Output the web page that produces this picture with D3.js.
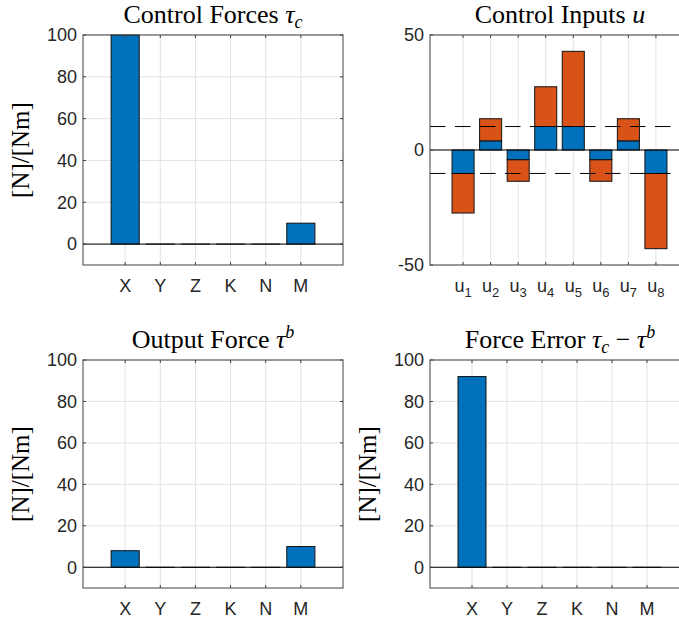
<!DOCTYPE html>
<html lang="en">
<head>
    <meta charset="UTF-8">
    <title>Control allocation</title>
    <script src="https://d3js.org/d3.v7.min.js"></script>
    <style>
        body {
            margin: 0;
            background: #ffffff;
        }
        svg {
            display: block;
        }
        .tick-label {
            font-family: "Liberation Sans", Arial, sans-serif;
            font-size: 18px;
            fill: #262626;
        }
        .serif {
            font-family: "Liberation Serif", "Times New Roman", serif;
            fill: #000000;
        }
    </style>
</head>
<body>
    <div id="chart"></div>

    <script>
        // data
        const forceLabels = ["X", "Y", "Z", "K", "N", "M"];
        const controlForces = [100, 0, 0, 0, 0, 10];
        const outputForce = [8, 0, 0, 0, 0, 10];
        const forceError = [92, 0, 0, 0, 0, 0];
        const forceTicks = [0, 20, 40, 60, 80, 100];

        const inputLabels = ["1", "2", "3", "4", "5", "6", "7", "8"];
        const inputAchieved = [-10.2, 3.9, -4.2, 10.2, 10.2, -4.2, 3.9, -10.2];
        const inputRequested = [-27.4, 13.6, -13.6, 27.5, 42.9, -13.6, 13.6, -42.9];
        const inputLimit = 10.2;
        const inputTicks = [-50, 0, 50];

        const width = 679;
        const height = 624;
        const blue = "#0072BD";
        const orange = "#D95319";

        const svg = d3.select("#chart")
            .append("svg")
            .attr("width", width)
            .attr("height", height);

        function drawPanel(opt) {
            const g = svg.append("g");
            const n = opt.labels.length;

            const x = d3.scaleLinear()
                .domain([-0.2, n + 1.2])
                .range([opt.left, opt.left + opt.w]);
            const y = d3.scaleLinear()
                .domain(opt.yDomain)
                .range([opt.top + opt.h, opt.top]);
            const idx = d3.range(1, n + 1);
            const bw = x(0.8) - x(0);

            // grid
            g.selectAll(".vgrid").data(idx).enter().append("line")
                .attr("x1", d => x(d)).attr("x2", d => x(d))
                .attr("y1", opt.top).attr("y2", opt.top + opt.h)
                .attr("stroke", "#e3e3e3");
            g.selectAll(".hgrid").data(opt.ticks).enter().append("line")
                .attr("x1", opt.left).attr("x2", opt.left + opt.w)
                .attr("y1", d => y(d)).attr("y2", d => y(d))
                .attr("stroke", "#e3e3e3");

            // bars (each series is a list of [from, to] segments)
            opt.series.forEach(s => {
                g.selectAll(null).data(s.values).enter().append("rect")
                    .attr("x", (d, i) => x(i + 1) - bw / 2)
                    .attr("width", bw)
                    .attr("y", d => Math.min(y(d[0]), y(d[1])))
                    .attr("height", d => Math.max(Math.abs(y(d[0]) - y(d[1])), 0.01))
                    .attr("fill", s.color)
                    .attr("stroke", "#111")
                    .attr("stroke-width", 1);
            });

            // base line
            g.append("line")
                .attr("x1", opt.left).attr("x2", opt.left + opt.w)
                .attr("y1", y(0)).attr("y2", y(0))
                .attr("stroke", "#000").attr("stroke-width", 1);

            if (opt.limit) {
                g.selectAll(".lim").data([opt.limit, -opt.limit]).enter().append("line")
                    .attr("x1", opt.left).attr("x2", opt.left + opt.w)
                    .attr("y1", d => y(d)).attr("y2", d => y(d))
                    .attr("stroke", "#000")
                    .attr("stroke-dasharray", "15.5,9.5");
            }

            // box and ticks
            g.append("rect")
                .attr("x", opt.left).attr("y", opt.top)
                .attr("width", opt.w).attr("height", opt.h)
                .attr("fill", "none").attr("stroke", "#404040");
            const tl = 3;
            g.selectAll(".xt").data(idx).enter().append("path")
                .attr("d", d => `M${x(d)},${opt.top + opt.h}v${-tl}M${x(d)},${opt.top}v${tl}`)
                .attr("stroke", "#404040");
            g.selectAll(".yt").data(opt.ticks).enter().append("path")
                .attr("d", d => `M${opt.left},${y(d)}h${tl}M${opt.left + opt.w},${y(d)}h${-tl}`)
                .attr("stroke", "#404040");

            // tick labels
            g.selectAll(".ylab").data(opt.ticks).enter().append("text")
                .attr("class", "tick-label")
                .attr("x", opt.left - 6)
                .attr("y", d => y(d))
                .attr("dy", "0.35em")
                .attr("text-anchor", "end")
                .text(d => d);

            const xl = g.selectAll(".xlab").data(opt.labels).enter().append("text")
                .attr("class", "tick-label")
                .attr("x", (d, i) => x(i + 1))
                .attr("y", opt.top + opt.h + 27)
                .attr("text-anchor", "middle");
            if (opt.subscriptLabels) {
                xl.text("u");
                xl.append("tspan")
                    .attr("font-size", "13px")
                    .attr("dy", 5)
                    .text(d => d);
            } else {
                xl.text(d => d);
            }

            // title
            const t = g.append("text")
                .attr("class", "serif")
                .attr("x", opt.left + 130)
                .attr("y", opt.top - 12)
                .attr("text-anchor", "middle")
                .attr("font-size", "26px");
            opt.title(t);

            if (opt.ylabel) {
                g.append("text")
                    .attr("class", "serif")
                    .attr("font-size", "25px")
                    .attr("text-anchor", "middle")
                    .attr("transform", `translate(${opt.left - 62},${opt.top + opt.h / 2}) rotate(-90)`)
                    .attr("dy", "0.3em")
                    .text("[N]/[Nm]");
            }
        }

        const single = vals => vals.map(v => [0, v]);

        // Control Forces
        drawPanel({
            left: 83, top: 35, w: 260, h: 230,
            labels: forceLabels, yDomain: [-10, 100], ticks: forceTicks,
            series: [{ values: single(controlForces), color: blue }],
            ylabel: true,
            title: t => {
                t.append("tspan").text("Control Forces ");
                t.append("tspan").attr("font-style", "italic").text("τ");
                t.append("tspan").attr("font-style", "italic").attr("font-size", "18px").attr("dy", 5).text("c");
            }
        });

        // Control Inputs
        drawPanel({
            left: 430, top: 35, w: 259, h: 230,
            labels: inputLabels, yDomain: [-50, 50], ticks: inputTicks,
            subscriptLabels: true,
            limit: inputLimit,
            series: [
                { values: inputAchieved.map((v, i) => [v, inputRequested[i]]), color: orange },
                { values: single(inputAchieved), color: blue }
            ],
            title: t => {
                t.append("tspan").text("Control Inputs ");
                t.append("tspan").attr("font-style", "italic").text("u");
            }
        });

        // Output Force
        drawPanel({
            left: 83, top: 360, w: 260, h: 228,
            labels: forceLabels, yDomain: [-10, 100], ticks: forceTicks,
            series: [{ values: single(outputForce), color: blue }],
            ylabel: true,
            title: t => {
                t.append("tspan").text("Output Force ");
                t.append("tspan").attr("font-style", "italic").text("τ");
                t.append("tspan").attr("font-style", "italic").attr("font-size", "18px").attr("dy", -10).text("b");
            }
        });

        // Force Error
        drawPanel({
            left: 430, top: 360, w: 259, h: 228,
            labels: forceLabels, yDomain: [-10, 100], ticks: forceTicks,
            series: [{ values: single(forceError), color: blue }],
            ylabel: true,
            title: t => {
                t.append("tspan").text("Force Error ");
                t.append("tspan").attr("font-style", "italic").text("τ");
                t.append("tspan").attr("font-style", "italic").attr("font-size", "18px").attr("dy", 5).text("c");
                t.append("tspan").attr("dy", -5).text(" − ");
                t.append("tspan").attr("font-style", "italic").text("τ");
                t.append("tspan").attr("font-style", "italic").attr("font-size", "18px").attr("dy", -10).text("b");
            }
        });
    </script>
</body>
</html>
